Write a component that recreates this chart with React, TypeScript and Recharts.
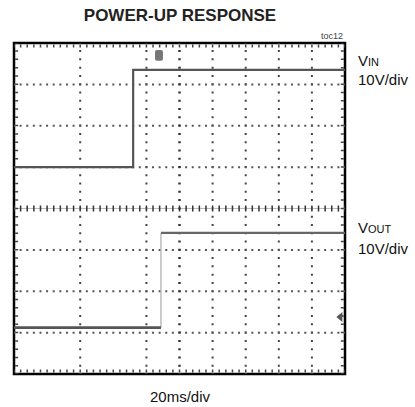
import React from "react";
import { LineChart, Line, XAxis, YAxis, ReferenceLine, ReferenceArea, ReferenceDot } from "recharts";

// scope screen: 10 horizontal divisions, 8 vertical divisions
const vinTrace = [
  { t: 0, v: 5.0 },
  { t: 3.6, v: 7.35 },
  { t: 10, v: 7.35 },
];
const voutEdge = [
  { t: 4.44, v: 1.12 },
  { t: 4.44, v: 3.41 },
];
const voutLow = [
  { t: 0, v: 1.12 },
  { t: 4.44, v: 1.12 },
];
const voutHigh = [
  { t: 4.44, v: 3.41 },
  { t: 10, v: 3.41 },
];
const verticalDivs = [2, 4, 6, 7, 8, 9];
const horizontalDivs = [1, 2, 3, 5, 6, 7];

const W = 415;
const H = 407;
const font = "'Liberation Sans', Arial, sans-serif";

const LeftArrow = (props: any) => {
  const { cx, cy } = props;
  return <path d={`M ${cx - 4} ${cy} L ${cx + 2} ${cy - 5} L ${cx + 2} ${cy + 5} Z`} fill="#555" />;
};

export default function App() {
  return (
    <div style={{ position: "absolute", left: 0, top: 0, width: W, height: H, background: "#fff", fontFamily: font }}>
      <LineChart width={W} height={H} margin={{ top: 43, right: 70, bottom: 33, left: 14 }}>
        <XAxis type="number" dataKey="t" domain={[0, 10]} hide allowDuplicatedCategory={false} />
        <YAxis type="number" domain={[0, 8]} hide />

        {verticalDivs.map(d => (
          <ReferenceLine key={"v" + d} x={d} stroke="#444" strokeWidth={2} strokeDasharray="2 6.28" strokeDashoffset={1} ifOverflow="visible" />
        ))}
        {horizontalDivs.map(d => (
          <ReferenceLine key={"h" + d} y={d} stroke="#555" strokeWidth={2} strokeDasharray="2 4.62" strokeDashoffset={1} ifOverflow="visible" />
        ))}

        {/* center crosshair with minor ticks */}
        <ReferenceLine y={4} stroke="#bbb" strokeWidth={1} />
        <ReferenceLine y={4} stroke="#333" strokeWidth={6} strokeDasharray="1.5 5.12" strokeDashoffset={0.75} />
        <ReferenceLine x={5} stroke="#333" strokeWidth={2.5} strokeDasharray="2 6.28" strokeDashoffset={1} />

        {/* minor ticks on the frame */}
        <ReferenceLine segment={[{ x: 0.08, y: 0 }, { x: 0.08, y: 8 }]} stroke="#444" strokeWidth={3} strokeDasharray="1.5 6.78" strokeDashoffset={0.75} />
        <ReferenceLine segment={[{ x: 9.92, y: 0 }, { x: 9.92, y: 8 }]} stroke="#444" strokeWidth={3} strokeDasharray="1.5 6.78" strokeDashoffset={0.75} />
        <ReferenceLine segment={[{ x: 0, y: 7.93 }, { x: 10, y: 7.93 }]} stroke="#444" strokeWidth={3} strokeDasharray="1.5 5.12" strokeDashoffset={0.75} />
        <ReferenceLine segment={[{ x: 0, y: 0.07 }, { x: 10, y: 0.07 }]} stroke="#444" strokeWidth={3} strokeDasharray="1.5 5.12" strokeDashoffset={0.75} />

        {/* trigger marker and ground marker */}
        <ReferenceArea x1={4.26} x2={4.5} y1={7.57} y2={7.83} fill="#777" fillOpacity={1} stroke="none" radius={2} />
        <ReferenceDot x={9.86} y={1.38} r={4} shape={LeftArrow} ifOverflow="visible" />

        <Line data={vinTrace} dataKey="v" type="stepAfter" stroke="#555" strokeWidth={2.2} dot={false} isAnimationActive={false} />
        <Line data={voutEdge} dataKey="v" type="linear" stroke="#aaa" strokeWidth={1.2} dot={false} isAnimationActive={false} />
        <Line data={voutLow} dataKey="v" type="linear" stroke="#555" strokeWidth={2.6} dot={false} isAnimationActive={false} />
        <Line data={voutHigh} dataKey="v" type="linear" stroke="#666" strokeWidth={2.4} dot={false} isAnimationActive={false} />

        <ReferenceArea x1={0} x2={10} y1={0} y2={8} fill="none" stroke="#000" strokeWidth={2.5} ifOverflow="visible" />
      </LineChart>

      <div style={{ position: "absolute", left: 0, width: 360, top: 6, textAlign: "center", fontWeight: "bold", fontSize: 17, color: "#222" }}>
        POWER-UP RESPONSE
      </div>
      <div style={{ position: "absolute", left: 321, top: 31, fontSize: 9, color: "#444" }}>toc12</div>

      <div style={{ position: "absolute", left: 358, top: 52, fontSize: 15, lineHeight: "18px", color: "#111" }}>
        V<span style={{ fontSize: 11 }}>IN</span>
        <br />10V/div
      </div>
      <div style={{ position: "absolute", left: 358, top: 218, fontSize: 15, lineHeight: "20px", color: "#111" }}>
        V<span style={{ fontSize: 11 }}>OUT</span>
        <br />10V/div
      </div>
      <div style={{ position: "absolute", left: 0, width: 360, top: 388, textAlign: "center", fontSize: 15, color: "#111" }}>
        20ms/div
      </div>
    </div>
  );
}
